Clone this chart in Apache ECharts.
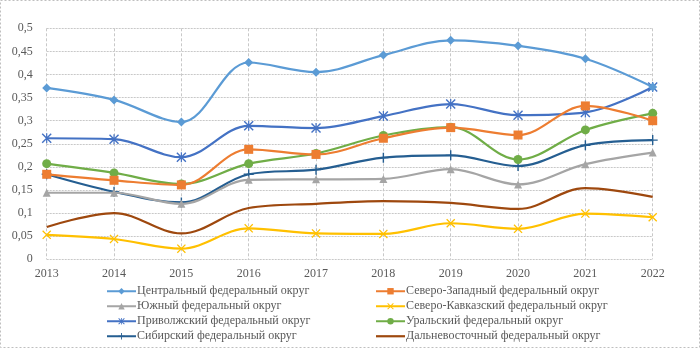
<!DOCTYPE html>
<html><head><meta charset="utf-8">
<script src="https://cdn.jsdelivr.net/npm/echarts@6/dist/echarts.min.js"></script>
<style>html,body{margin:0;padding:0;background:#fff}#c{width:700px;height:348px}</style>
</head><body><div id="c"></div>
<script>
const years = ['2013','2014','2015','2016','2017','2018','2019','2020','2021','2022'];
const central     = [0.371,0.345,0.297,0.426,0.405,0.442,0.474,0.462,0.434,0.373];
const northWest   = [0.184,0.171,0.161,0.238,0.227,0.262,0.285,0.269,0.332,0.300];
const south       = [0.144,0.144,0.120,0.172,0.173,0.174,0.195,0.162,0.206,0.231];
const northCauc   = [0.053,0.044,0.023,0.067,0.056,0.055,0.078,0.066,0.099,0.091];
const volga       = [0.262,0.260,0.221,0.289,0.284,0.310,0.336,0.312,0.318,0.373];
const ural        = [0.207,0.187,0.163,0.207,0.229,0.268,0.286,0.216,0.280,0.316];
const siberia     = [0.184,0.146,0.123,0.184,0.194,0.220,0.225,0.202,0.247,0.258];
const farEast     = [0.070,0.100,0.056,0.111,0.120,0.126,0.122,0.109,0.154,0.135];
const yTicks = ['0','0,05','0,1','0,15','0,2','0,25','0,3','0,35','0,4','0,45','0,5'];

const names = ['Центральный федеральный округ','Северо-Западный федеральный округ','Южный федеральный округ','Северо-Кавказский федеральный округ','Приволжский федеральный округ','Уральский федеральный округ','Сибирский федеральный округ','Дальневосточный федеральный округ'];
const datas = [central,northWest,south,northCauc,volga,ural,siberia,farEast];
const colors = ['#5B9BD5','#ED7D31','#A5A5A5','#FFC000','#4472C4','#70AD47','#255E91','#9E480E'];
const X = 'path://M0,1 L1,0 L5,4 L9,0 L10,1 L6,5 L10,9 L9,10 L5,6 L1,10 L0,9 L4,5 Z';
const PLUS = 'path://M4.3,0 H5.7 V4.3 H10 V5.7 H5.7 V10 H4.3 V5.7 H0 V4.3 H4.3 Z';
const AST = 'path://M0,1 L1,0 L5,4 L9,0 L10,1 L6,5 L10,9 L9,10 L5,6 L1,10 L0,9 L4,5 Z M4.4,0 H5.6 V10 H4.4 Z';
const symbols = ['diamond','rect','triangle',X,AST,'circle',PLUS,'none'];
const sizes = [9,9,8,9,10,9,10,0];
const BAR = 'path://M0,0 H29 V2.2 H0 Z';

const font = 'Liberation Serif';
const chart = echarts.init(document.getElementById('c'));
const legendCommon = {orient:'vertical',top:285,height:62,padding:0,itemWidth:29,itemHeight:8,itemGap:2.5,
  textStyle:{color:'#595959',fontFamily:font,fontSize:12,lineHeight:12.5,padding:[0,0,0,-4]}};
chart.setOption({
  animation:false,
  backgroundColor:'#fff',
  graphic:[{type:'rect',shape:{x:0.5,y:0.5,width:699,height:347},style:{fill:'none',stroke:'#BFBFBF',lineWidth:1,lineDash:[2,2]}}],
  grid:{left:46.7,right:47.3,top:28.3,bottom:88.7},
  xAxis:{type:'category',data:years,boundaryGap:false,
    axisLine:{show:false},axisTick:{show:false},
    splitLine:{show:true,lineStyle:{color:'#C8C8C8',type:[3,2],width:1}},
    axisLabel:{color:'#595959',fontFamily:font,fontSize:12,margin:9}},
  yAxis:{type:'value',min:0,max:0.5,interval:0.05,
    axisLine:{show:false},axisTick:{show:false},
    splitLine:{lineStyle:{color:'#C8C8C8',type:[2,1],width:1}},
    axisLabel:{color:'#595959',fontFamily:font,fontSize:12,margin:14,
      formatter:(v)=>yTicks[Math.round(v/0.05)]}},
  legend:[
    Object.assign({left:106,data:[names[0],names[2],names[4],names[6]]},legendCommon),
    Object.assign({left:375,data:[names[1],names[3],names[5],{name:names[7],icon:BAR}]},legendCommon)
  ],
  series: datas.map((d,i)=>({
    name:names[i],type:'line',data:d,smooth:0.35,
    symbol:symbols[i],symbolSize:sizes[i],showSymbol:symbols[i]!=='none',
    itemStyle:{color:colors[i]},
    lineStyle:{color:colors[i],width:2.2},
    z: 10-i
  }))
});
</script></body></html>
